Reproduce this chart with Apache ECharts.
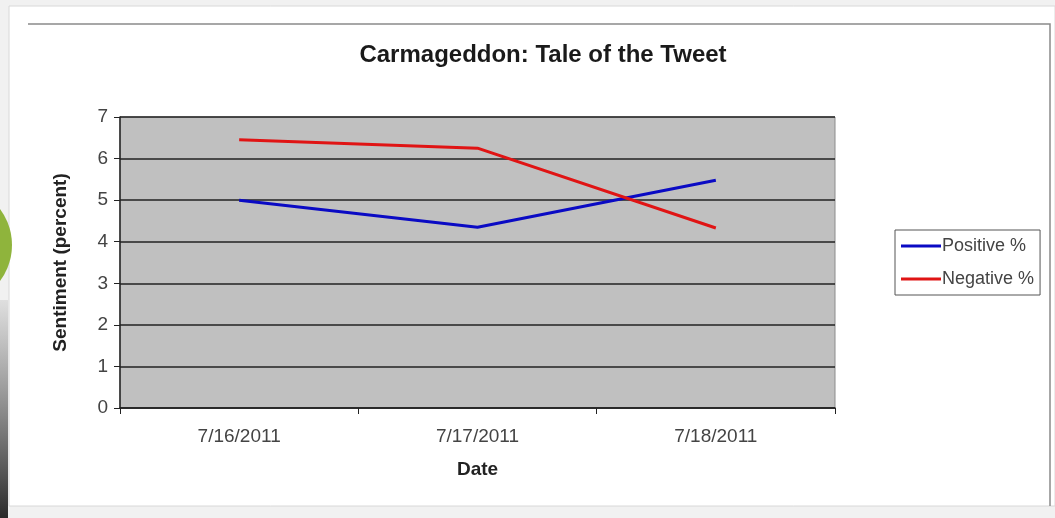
<!DOCTYPE html>
<html>
<head>
<meta charset="utf-8">
<script src="https://cdn.jsdelivr.net/npm/echarts@6/dist/echarts.min.js"></script>
<style>
  html, body { margin: 0; padding: 0; background: #f1f1f1; }
  #chart { width: 1055px; height: 518px; }
</style>
</head>
<body>
<div id="chart"></div>
<script>
// data
const dates = ['7/16/2011', '7/17/2011', '7/18/2011']
const positive = [5.0, 4.35, 5.48]
const negative = [6.45, 6.25, 4.33]

const font = '"Liberation Sans", Arial, sans-serif'

const chart = echarts.init(document.getElementById('chart'))

chart.setOption({
  backgroundColor: '#f1f1f1',
  animation: false,
  textStyle: { fontFamily: font },
  graphic: [
    // white card behind the chart
    { type: 'rect', z: -10, shape: { x: 9, y: 6, width: 1046, height: 500 }, style: { fill: '#ffffff', stroke: '#d8d8d8', lineWidth: 1 } },
    // chart area border (top + right)
    { type: 'polyline', z: -9, shape: { points: [[28, 24], [1050, 24], [1050, 506]] }, style: { stroke: '#8a8a8a', lineWidth: 1.5, fill: null } },
    // green shape peeking in at the left edge
    { type: 'circle', z: -8, shape: { cx: -48, cy: 245, r: 60 }, style: { fill: '#8fb43c' } },
    // dark shadow strip lower left
    { type: 'rect', z: -8, shape: { x: 0, y: 300, width: 8, height: 218 },
      style: { fill: new echarts.graphic.LinearGradient(0, 0, 0, 1, [
        { offset: 0, color: 'rgba(60,60,60,0.1)' }, { offset: 1, color: 'rgba(20,20,20,0.9)' }]) } }
  ],
  title: {
    text: 'Carmageddon: Tale of the Tweet',
    left: 538,
    top: 38,
    textAlign: 'center',
    textStyle: { fontFamily: font, fontSize: 24, fontWeight: 'bold', color: '#1a1a1a' }
  },
  legend: {
    orient: 'vertical',
    left: 895,
    top: 230,
    itemWidth: 40,
    itemHeight: 3,
    itemGap: 15,
    padding: [7, 6, 7, 6],
    borderColor: '#555',
    borderWidth: 1,
    backgroundColor: '#fff',
    icon: 'rect',
    textStyle: { fontFamily: font, fontSize: 18, color: '#444', padding: [0, 0, 0, -4] },
    data: ['Positive %', 'Negative %']
  },
  grid: {
    left: 120,
    right: 220,
    top: 117,
    bottom: 110,
    show: true,
    backgroundColor: '#c0c0c0',
    borderColor: '#8c8c8c',
    borderWidth: 1
  },
  xAxis: {
    type: 'category',
    data: dates,
    boundaryGap: true,
    name: 'Date',
    nameLocation: 'middle',
    nameGap: 52,
    nameTextStyle: { fontFamily: font, fontSize: 19, fontWeight: 'bold', color: '#222' },
    axisLine: { lineStyle: { color: '#222', width: 1.5 } },
    axisTick: { show: true, length: 6, lineStyle: { color: '#222' } },
    axisLabel: { fontFamily: font, fontSize: 19, color: '#444', margin: 19 },
    splitLine: { show: false }
  },
  yAxis: {
    type: 'value',
    min: 0,
    max: 7,
    interval: 1,
    name: 'Sentiment (percent)',
    nameLocation: 'middle',
    nameGap: 50,
    nameTextStyle: { fontFamily: font, fontSize: 19, fontWeight: 'bold', color: '#222' },
    axisLine: { show: true, lineStyle: { color: '#222', width: 1.5 } },
    axisTick: { show: true, length: 6, lineStyle: { color: '#222' } },
    axisLabel: { fontFamily: font, fontSize: 19, color: '#444', margin: 12 },
    splitLine: { show: true, lineStyle: { color: '#222', width: 1.5 } }
  },
  series: [
    {
      name: 'Positive %',
      type: 'line',
      data: positive,
      symbol: 'none',
      lineStyle: { color: '#0a0ac4', width: 3 },
      itemStyle: { color: '#0a0ac4' }
    },
    {
      name: 'Negative %',
      type: 'line',
      data: negative,
      symbol: 'none',
      lineStyle: { color: '#e01414', width: 3 },
      itemStyle: { color: '#e01414' }
    }
  ]
})
</script>
</body>
</html>
